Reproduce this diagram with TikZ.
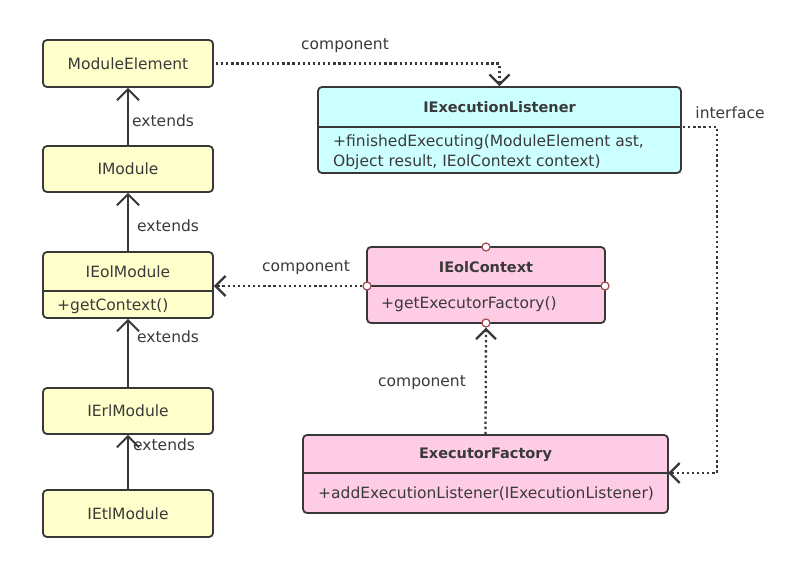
\documentclass[tikz,border=0pt]{standalone}
\usepackage{fontspec}
\setmainfont{DejaVu Sans}
\usetikzlibrary{arrows.meta}
\definecolor{ink}{HTML}{383838}
\definecolor{yel}{HTML}{FFFFCC}
\definecolor{cya}{HTML}{CCFFFF}
\definecolor{pnk}{HTML}{FFCCE5}
\definecolor{txt}{HTML}{3A3A3A}
\definecolor{ring}{HTML}{A04848}
\begin{document}
\begin{tikzpicture}[x=1pt,y=-1pt,
  box/.style={draw=ink, line width=1.8pt, rounded corners=4pt, inner sep=0pt, text=txt, font=\fontsize{15.5}{18}\selectfont},
  divider/.style={draw=ink, line width=1.8pt},
  title/.style={text=txt, font=\fontsize{14.5}{17}\selectfont\bfseries, inner sep=0pt},
  plain/.style={text=txt, font=\fontsize{15.5}{18}\selectfont, inner sep=0pt},
  member/.style={text=txt, font=\fontsize{15.5}{20}\selectfont, anchor=west, inner sep=0pt, align=left},
  lbl/.style={text=txt, font=\fontsize{15.5}{18}\selectfont, inner sep=0pt},
  ext/.style={draw=ink, line width=2pt, -{Straight Barb[length=11pt,width=22pt]}},
  dep/.style={draw=ink, line width=2.3pt, dash pattern=on 2.3pt off 2.8pt, -{Straight Barb[length=10pt,width=20pt]}},
  ringst/.style={circle, draw=ring, fill=white, line width=1.2pt, minimum size=8pt, inner sep=0pt}]
\useasboundingbox[fill=white] (0,0) rectangle (795,562);

% left column
\node[box, fill=yel, minimum width=170pt, minimum height=47pt] (me) at (128,63.5) {ModuleElement};
\node[box, fill=yel, minimum width=170pt, minimum height=46pt] (im) at (128,169) {IModule};
\node[box, fill=yel, minimum width=170pt, minimum height=66pt] (iem) at (128,285) {};
\draw[divider] (43,291) -- (213,291);
\node[plain] (iemt) at (128,272) {IEolModule};
\node[member] (iemm) at (57,306) {+getContext()};
\node[box, fill=yel, minimum width=170pt, minimum height=46pt] (ierl) at (128,411) {IErlModule};
\node[box, fill=yel, minimum width=170pt, minimum height=47pt] (ietl) at (128,513.5) {IEtlModule};

% IExecutionListener
\node[box, fill=cya, minimum width=363pt, minimum height=86pt] (iel) at (499.5,130) {};
\draw[divider] (318,127) -- (681,127);
\node[title] (ielt) at (499.5,107) {IExecutionListener};
\node[member] (ielm) at (333,152) {+finishedExecuting(ModuleElement ast,\\Object result, IEolContext context)};

% IEolContext
\node[box, fill=pnk, minimum width=238pt, minimum height=76pt] (iec) at (486,285) {};
\draw[divider] (367,286) -- (605,286);
\node[title] (iect) at (486,267) {IEolContext};
\node[member] (iecm) at (381,304) {+getExecutorFactory()};

% ExecutorFactory
\node[box, fill=pnk, minimum width=365pt, minimum height=78pt] (ef) at (485.5,474) {};
\draw[divider] (303,473) -- (668,473);
\node[title] (eft) at (485.5,455) {ExecutorFactory};
\node[member] (efm) at (318,494) {+addExecutionListener(IExecutionListener)};

% rings on IEolContext
\node[ringst] (ringT) at (486,247) {};
\node[ringst] (ringL) at (367,286) {};
\node[ringst] (ringR) at (605,286) {};
\node[ringst] (ringB) at (486,323) {};

% extends arrows
\draw[ext] (im.north) -- (me.south);
\draw[ext] (iem.north) -- (im.south);
\draw[ext] (ierl.north) -- (iem.south);
\draw[ext] (ietl.north) -- (ierl.south);

% dependencies
\draw[dep, shorten <=2pt] (me.east) -| (iel.north);
\coordinate (ielR) at (681,127);
\coordinate (ifc) at (717,300);
\coordinate (efR) at (668,473);
\draw[dep, shorten <=2pt] (ielR) -| (ifc) |- (efR);
\draw[dep] (ringL.west) -- (iem.east |- ringL);
\draw[dep] (ef.north) -- (ringB.south);

% labels
\node[lbl] (l1) at (345,46) {component};
\node[lbl] (l2) at (306,268) {component};
\node[lbl] (l3) at (422,383) {component};
\node[lbl] (l4) at (730,113) {interface};
\node[lbl, anchor=west] (e1) at (132,121) {extends};
\node[lbl, anchor=west] (e2) at (137,226) {extends};
\node[lbl, anchor=west] (e3) at (137,337) {extends};
\node[lbl, anchor=west] (e4) at (133,445) {extends};
\end{tikzpicture}
\end{document}
